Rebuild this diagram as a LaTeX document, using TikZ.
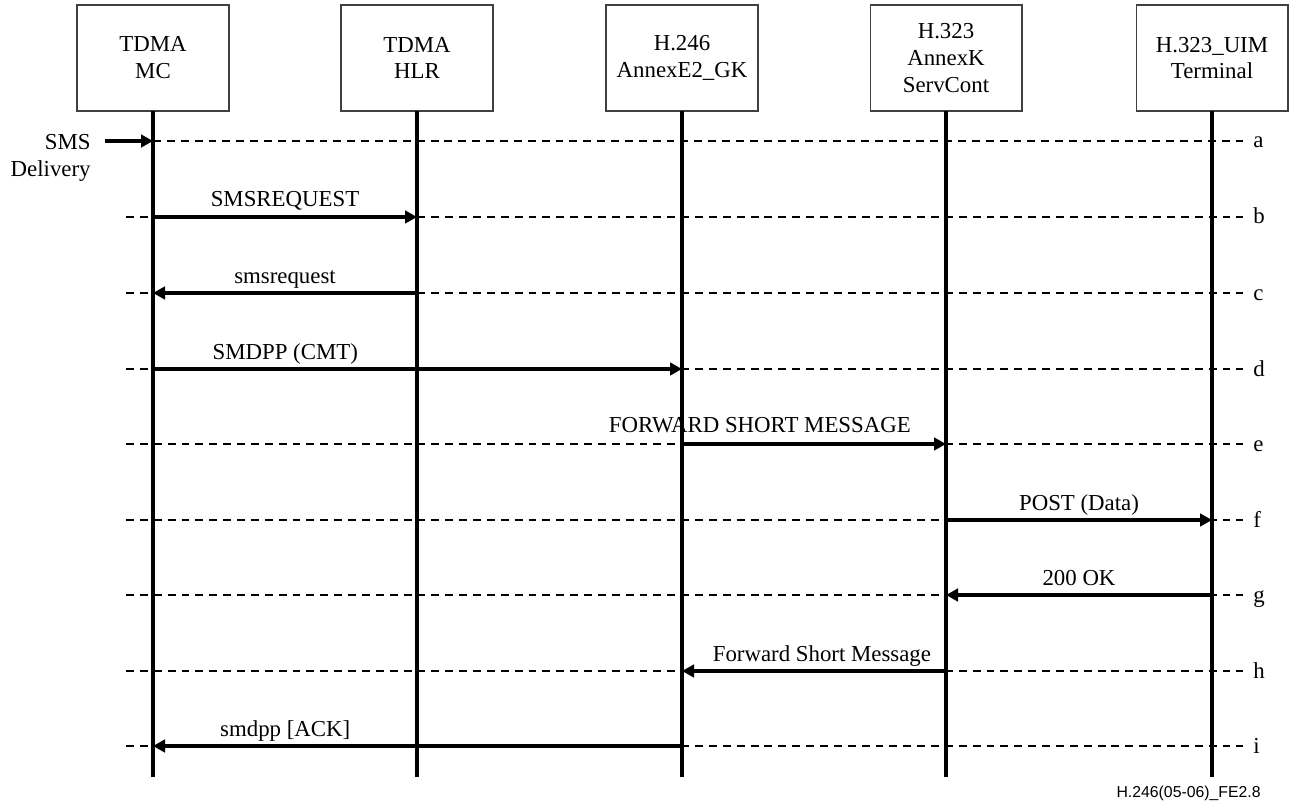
\documentclass[tikz,border=0pt]{standalone}
\usepackage{fontspec}
\setmainfont{Liberation Serif}
\newfontfamily\footfont{Liberation Sans}
\usetikzlibrary{arrows.meta,positioning}

\begin{document}
\begin{tikzpicture}[x=0.02cm, y=-0.02cm,
    entity/.style={draw=black!75, line width=0.6pt, minimum width=3.04cm, minimum height=2.12cm,
        inner sep=0pt, outer sep=0pt, align=center, font=\fontsize{13}{15.3}\selectfont},
    life/.style={line width=1.8pt},
    msg/.style={line width=1.8pt, -{Triangle[length=0.24cm,width=0.25cm]}},
    guide/.style={line width=0.6pt, dash pattern=on 4.5pt off 3.4pt},
    msglabel/.style={anchor=base, yshift=0.2cm, inner sep=0pt, font=\fontsize{13}{15.3}\selectfont},
    rowlabel/.style={anchor=base west, inner sep=0pt, font=\fontsize{13}{15.3}\selectfont}]

    % Keep the page the size of the reference
    \useasboundingbox (0,0) rectangle (1297,807);

    % Lifeline bottom
    \def\lifeend{777}

    % Entities
    \node[entity] (mc)  at (153,58)  {TDMA\\MC};
    \node[entity] (hlr) at (417,58)  {TDMA\\HLR};
    \node[entity] (gk)  at (682,58)  {H.246\\AnnexE2\_GK};
    \node[entity] (sc)  at (946,58)  {H.323\\AnnexK\\ServCont};
    \node[entity] (uim) at (1212,58) {H.323\_UIM\\Terminal};

    % Lifelines
    \foreach \e in {mc,hlr,gk,sc,uim}
        \draw[life] (\e.south) -- (\e |- 0,\lifeend);

    % Step rows with their letters
    \foreach \r/\y in {a/141,b/217,c/293,d/369,e/444,f/520,g/595,h/671,i/746} {
        \coordinate (row-\r) at (126,\y);
        \coordinate (end-\r) at (1243,\y);
        \node[rowlabel] (lbl-\r) at (1253,\y+7) {\r};
    }

    % Dashed guides (row a starts at the MC lifeline)
    \draw[guide] (mc |- row-a) -- (end-a);
    \foreach \r in {b,c,d,e,f,g,h,i}
        \draw[guide] (row-\r) -- (end-\r);

    % Incoming SMS
    \coordinate (smsin) at (105,141);
    \node[anchor=north east, inner sep=0pt, align=right, font=\fontsize{13}{15.3}\selectfont]
        (smsdel) at (91,134) {SMS\\Delivery};
    \draw[msg] (smsin) -- (mc |- row-a);

    % Messages
    \draw[msg] (mc |- row-b) -- (hlr |- row-b) node[msglabel, midway] {SMSREQUEST};
    \draw[msg] (hlr |- row-c) -- (mc |- row-c) node[msglabel, midway] {smsrequest};
    \draw[msg] (mc |- row-d) -- (gk |- row-d) node[msglabel, pos=0.25] {SMDPP (CMT)};
    \draw[msg] (gk |- row-e) -- (sc |- row-e) node[msglabel, pos=0.295, yshift=0.04cm] {FORWARD SHORT MESSAGE};
    \draw[msg] (sc |- row-f) -- (uim |- row-f) node[msglabel, midway] {POST (Data)};
    \draw[msg] (uim |- row-g) -- (sc |- row-g) node[msglabel, midway] {200 OK};
    \draw[msg] (sc |- row-h) -- (gk |- row-h) node[msglabel, pos=0.47] {Forward Short Message};
    \draw[msg] (gk |- row-i) -- (mc |- row-i) node[msglabel, pos=0.75] {smdpp [ACK]};

    % Figure reference
    \node[anchor=base east, inner sep=0pt, font=\footfont\fontsize{9}{11}\selectfont]
        (figref) at (1261,797) {H.246(05-06)\_FE2.8};
\end{tikzpicture}
\end{document}
